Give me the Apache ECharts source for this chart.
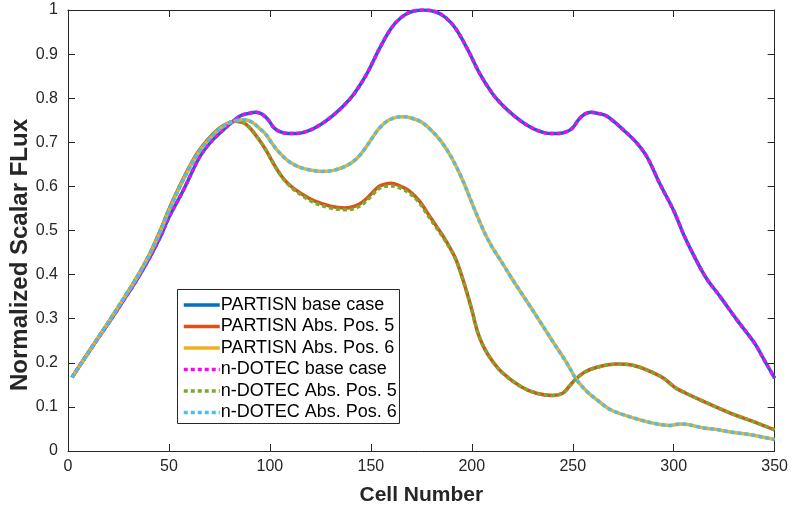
<!DOCTYPE html>
<html>
<head>
<meta charset="utf-8">
<script src="https://cdn.jsdelivr.net/npm/echarts@6/dist/echarts.min.js"></script>
<style>
html,body{margin:0;padding:0;background:#fff;}
#chart{width:791px;height:511px;}
</style>
</head>
<body>
<div id="chart"></div>
<script>
// ---- data (cell number, normalized flux) ----
const xTicks = [0, 50, 100, 150, 200, 250, 300, 350];
const yTicks = [0, 0.1, 0.2, 0.3, 0.4, 0.5, 0.6, 0.7, 0.8, 0.9, 1];
const seriesNames = ['PARTISN base case','PARTISN Abs. Pos. 5','PARTISN Abs. Pos. 6','n-DOTEC base case','n-DOTEC Abs. Pos. 5','n-DOTEC Abs. Pos. 6'];
const xTitle = 'Cell Number';
const yTitle = 'Normalized Scalar FLux';

const partisnBase = [[2,0.167],[6,0.195],[12,0.236],[18,0.276],[22,0.303],[28,0.345],[32,0.373],[36,0.403],[41,0.443],[46,0.488],[50,0.53],[57,0.59],[65,0.665],[70,0.697],[75,0.72],[85,0.759],[90,0.766],[93,0.768],[96,0.764],[99,0.752],[102,0.733],[105,0.724],[109,0.72],[113,0.72],[119,0.726],[125,0.74],[131,0.76],[137,0.785],[142,0.812],[148,0.855],[154,0.91],[160,0.958],[165,0.983],[170,0.996],[176,1.0],[182,0.996],[187,0.983],[192,0.958],[198,0.91],[204,0.855],[210,0.812],[215,0.785],[221,0.76],[227,0.74],[233,0.726],[239,0.72],[243,0.72],[247,0.724],[250,0.733],[253,0.752],[256,0.764],[259,0.768],[262,0.766],[267,0.759],[277,0.72],[282,0.697],[287,0.665],[293,0.607],[300,0.545],[305,0.49],[310,0.443],[316,0.393],[323,0.35],[331,0.299],[340,0.245],[345,0.205],[350,0.165]];

const partisnAbs5 = [[2,0.167],[6,0.195],[12,0.237],[18,0.278],[22,0.306],[28,0.349],[32,0.378],[36,0.409],[41,0.452],[46,0.503],[50,0.548],[55,0.598],[60,0.643],[64,0.675],[69,0.705],[74,0.728],[79,0.743],[83,0.748],[87,0.744],[90,0.733],[93,0.716],[96,0.697],[99,0.675],[102,0.65],[106,0.622],[110,0.602],[116,0.582],[122,0.567],[130,0.555],[137,0.551],[142,0.555],[146,0.565],[150,0.582],[154,0.6],[157,0.605],[160,0.607],[164,0.602],[169,0.59],[174,0.567],[178,0.54],[183,0.506],[187,0.478],[192,0.436],[197,0.368],[200,0.32],[203,0.268],[206,0.235],[210,0.205],[215,0.178],[224,0.147],[232,0.131],[240,0.126],[245,0.131],[248,0.145],[251,0.161],[256,0.179],[262,0.19],[272,0.197],[279,0.195],[285,0.187],[290,0.177],[295,0.165],[301,0.143],[306,0.131],[315,0.112],[328,0.086],[341,0.064],[350,0.048]];

const partisnAbs6 = [[2,0.167],[6,0.195],[12,0.237],[18,0.278],[22,0.306],[28,0.349],[32,0.377],[36,0.408],[41,0.45],[46,0.5],[50,0.545],[55,0.595],[60,0.64],[64,0.672],[69,0.702],[74,0.726],[79,0.742],[83,0.749],[87,0.751],[91,0.746],[95,0.731],[98,0.718],[101,0.698],[104,0.68],[109,0.658],[114,0.645],[120,0.637],[126,0.634],[132,0.637],[138,0.647],[143,0.663],[147,0.685],[151,0.712],[154,0.731],[158,0.748],[162,0.756],[166,0.758],[170,0.755],[175,0.746],[180,0.727],[185,0.701],[190,0.665],[195,0.619],[201,0.552],[206,0.498],[210,0.463],[215,0.427],[220,0.39],[226,0.348],[233,0.299],[241,0.242],[247,0.2],[252,0.161],[257,0.135],[262,0.116],[269,0.093],[280,0.075],[287,0.066],[292,0.061],[298,0.058],[303,0.061],[307,0.06],[315,0.052],[321,0.049],[328,0.043],[338,0.037],[350,0.026]];

const ndotecBase = [[2,0.167],[6,0.195],[12,0.236],[18,0.276],[22,0.303],[28,0.345],[32,0.373],[36,0.403],[41,0.443],[46,0.488],[50,0.53],[57,0.59],[65,0.665],[70,0.697],[75,0.72],[85,0.759],[90,0.766],[93,0.768],[96,0.764],[99,0.752],[102,0.733],[105,0.724],[109,0.72],[113,0.72],[119,0.726],[125,0.74],[131,0.76],[137,0.785],[142,0.812],[148,0.855],[154,0.91],[160,0.958],[165,0.983],[170,0.996],[176,1.0],[182,0.996],[187,0.983],[192,0.958],[198,0.91],[204,0.855],[210,0.812],[215,0.785],[221,0.76],[227,0.74],[233,0.726],[239,0.72],[243,0.72],[247,0.724],[250,0.733],[253,0.752],[256,0.764],[259,0.768],[262,0.766],[267,0.759],[277,0.72],[282,0.697],[287,0.665],[293,0.607],[300,0.545],[305,0.49],[310,0.443],[316,0.393],[323,0.35],[331,0.299],[340,0.245],[345,0.205],[350,0.165]];

const ndotecAbs5 = [[2,0.167],[6,0.195],[12,0.237],[18,0.278],[22,0.306],[28,0.349],[32,0.378],[36,0.409],[41,0.452],[46,0.503],[50,0.548],[55,0.598],[60,0.643],[64,0.675],[69,0.705],[74,0.728],[79,0.743],[83,0.748],[87,0.744],[90,0.733],[93,0.716],[96,0.697],[99,0.675],[102,0.65],[106,0.621],[110,0.6],[116,0.579],[122,0.563],[130,0.551],[137,0.547],[142,0.55],[146,0.56],[150,0.577],[154,0.595],[157,0.6],[160,0.601],[164,0.597],[169,0.585],[174,0.563],[178,0.536],[183,0.503],[187,0.476],[192,0.435],[197,0.368],[200,0.32],[203,0.268],[206,0.235],[210,0.205],[215,0.178],[224,0.147],[232,0.131],[240,0.126],[245,0.131],[248,0.145],[251,0.161],[256,0.179],[262,0.19],[272,0.197],[279,0.195],[285,0.187],[290,0.177],[295,0.165],[301,0.143],[306,0.131],[315,0.112],[328,0.086],[341,0.064],[350,0.048]];

const ndotecAbs6 = [[2,0.167],[6,0.195],[12,0.237],[18,0.278],[22,0.306],[28,0.349],[32,0.377],[36,0.408],[41,0.45],[46,0.5],[50,0.545],[55,0.595],[60,0.64],[64,0.672],[69,0.702],[74,0.726],[79,0.742],[83,0.749],[87,0.751],[91,0.746],[95,0.731],[98,0.718],[101,0.698],[104,0.68],[109,0.658],[114,0.645],[120,0.637],[126,0.634],[132,0.637],[138,0.647],[143,0.663],[147,0.685],[151,0.712],[154,0.731],[158,0.748],[162,0.756],[166,0.758],[170,0.755],[175,0.746],[180,0.727],[185,0.701],[190,0.665],[195,0.619],[201,0.552],[206,0.498],[210,0.463],[215,0.427],[220,0.39],[226,0.348],[233,0.299],[241,0.242],[247,0.2],[252,0.161],[257,0.135],[262,0.116],[269,0.093],[280,0.075],[287,0.066],[292,0.061],[298,0.058],[303,0.061],[307,0.06],[315,0.052],[321,0.049],[328,0.043],[338,0.037],[350,0.026]];

const seriesData = [partisnBase, partisnAbs5, partisnAbs6, ndotecBase, ndotecAbs5, ndotecAbs6];
const seriesColors = ['#0072BD','#D95319','#EDB120','#FF00FF','#77AC30','#4DBEEE'];

// ---- chart ----
const FONT = 'Liberation Sans, Arial, Helvetica, sans-serif';
const AX = '#262626';
const chart = echarts.init(document.getElementById('chart'), null, {renderer:'canvas'});

const xMin = xTicks[0], xMax = xTicks[xTicks.length-1], xStep = xTicks[1]-xTicks[0];
const yMin = yTicks[0], yMax = yTicks[yTicks.length-1], yStep = 0.1;

function baseAxis(extra){
  return Object.assign({
    axisLine:{show:true, onZero:false, lineStyle:{color:AX, width:1}},
    axisTick:{show:true, inside:true, length:7, lineStyle:{color:AX, width:1}},
    splitLine:{show:false}
  }, extra);
}

const series = seriesData.map((d, i) => ({
  name: seriesNames[i],
  type: 'line',
  data: d,
  xAxisIndex: 0, yAxisIndex: 0,
  smooth: 0.35,
  showSymbol: false,
  symbol: 'none',
  z: 2,
  lineStyle: {
    color: seriesColors[i],
    width: 3.5,
    type: i < 3 ? 'solid' : [4, 3],
    cap: 'butt'
  },
  itemStyle: {color: seriesColors[i]},
  animation: false
}));

chart.setOption({
  animation: false,
  backgroundColor: '#ffffff',
  grid: {left: 68, right: 13, top: 10, bottom: 55, containLabel: false},
  xAxis: [
    baseAxis({type:'value', position:'bottom', min:xMin, max:xMax, interval:xStep,
      name:xTitle, nameLocation:'middle', nameGap:34,
      nameTextStyle:{fontFamily:FONT, fontSize:21, fontWeight:'bold', color:AX},
      axisLabel:{show:true, margin:8, fontFamily:FONT, fontSize:16, color:AX}}),
    baseAxis({type:'value', position:'top', min:xMin, max:xMax, interval:xStep,
      axisLabel:{show:false}})
  ],
  yAxis: [
    baseAxis({type:'value', position:'left', min:yMin, max:yMax, interval:yStep,
      axisLabel:{show:true, margin:10, fontFamily:FONT, fontSize:16, color:AX,
        formatter: v => String(Math.round(v*10)/10)}}),
    baseAxis({type:'value', position:'right', min:yMin, max:yMax, interval:yStep,
      axisLabel:{show:false}})
  ],
  graphic: [
    {
      type:'text', x: 20, y: 255, rotation: Math.PI/2, z: 10,
      style:{text: yTitle, fill: AX, font: 'bold 24px ' + FONT, align:'center', verticalAlign:'middle'}
    },
    {
      type:'rect', z: 3, silent: true,
      shape:{x: 177.5, y: 289.5, width: 222, height: 134},
      style:{fill:'#ffffff', stroke: AX, lineWidth: 1}
    }
  ],
  legend: {
    show: true,
    z: 5,
    orient: 'vertical',
    left: 177, top: 291,
    padding: [5, 4, 5, 5],
    itemGap: 3.5,
    itemWidth: 36,
    itemHeight: 14,
    borderWidth: 0,
    backgroundColor: 'transparent',
    data: seriesNames,
    itemStyle: {opacity: 0, borderWidth: 0},
    lineStyle: {width: 3.5},
    textStyle: {fontFamily: FONT, fontSize: 18, color: '#000', lineHeight: 18, padding:[0,0,0,-4]}
  },
  series: series
});
</script>
</body>
</html>
